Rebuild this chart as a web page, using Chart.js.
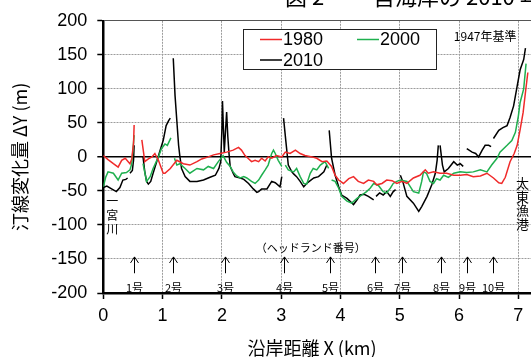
<!DOCTYPE html>
<html>
<head>
<meta charset="utf-8">
<script src="https://cdn.jsdelivr.net/npm/chart.js@4.4.0/dist/chart.umd.min.js"></script>
<style>
    html, body { margin: 0; padding: 0; background: #fff; overflow: hidden; }
    #marco { width: 531px; height: 357px; overflow: hidden; }
</style>
</head>
<body>
<div id="marco"><canvas id="graficoHL" width="560" height="357" style="width:560px;height:357px"></canvas></div>
<script>
// Distancia a lo largo de la costa (km) y cambio de línea de costa (m); null = tramo cortado
const x1980 = [
    0, 0.08, 0.17, 0.25, 0.31, 0.37, 0.42, 0.45, 0.48, 0.51,
    0.52, 0.58, 0.65, 0.70, 0.76, 0.82, 0.87, 0.93, 1.01, 1.04,
    1.13, 1.24, 1.35, 1.46, 1.58, 1.66, 1.77, 1.86, 1.97, 2.08,
    2.19, 2.28, 2.33, 2.39, 2.44, 2.50, 2.56, 2.62, 2.67, 2.73,
    2.78, 2.84, 2.92, 3.01, 3.07, 3.15, 3.24, 3.32, 3.40, 3.52,
    3.60, 3.69, 3.77, 3.85, 3.91, 3.97, 4.05, 4.14, 4.22, 4.30,
    4.39, 4.47, 4.56, 4.61, 4.70, 4.78, 4.87, 4.95, 5.04, 5.12,
    5.23, 5.34, 5.43, 5.48, 5.57, 5.68, 5.79, 5.91, 6.02, 6.13,
    6.24, 6.36, 6.47, 6.58, 6.67, 6.72, 6.78, 6.86, 6.93, 6.98,
    7.03, 7.08, 7.12, 7.16
];
const y1980 = [
    2, -4, -10, -15, -5, -2, -7, -10, -3, 20,
    47, null, 25, -7, -3, 0, 5, -5, -24, -24,
    -17, -5, -10, -12, -7, -3, 0, 3, 5, 7,
    10, 14, 10, 2, -2, -7, -5, -7, -2, -6,
    0, -2, 2, 0, 7, 5, 10, 5, 2, 0,
    -2, -7, -6, -14, -27, -34, -39, -32, -29, -36,
    -39, -34, -36, -41, -39, -34, -35, -39, -36, -39,
    -31, -27, -19, -24, -22, -24, -24, -27, -27, -26,
    -29, -28, -24, -31, -38, -39, -30, -7, 5, 17,
    40, 65, 95, 124
];

const x2000 = [
    0, 0.04, 0.08, 0.17, 0.25, 0.31, 0.39, 0.45, 0.48, 0.50,
    0.52, 0.60, 0.67, 0.73, 0.79, 0.84, 0.93, 0.98, 1.04, 1.08,
    1.14, 1.17, 1.20, 1.24, 1.29, 1.38, 1.46, 1.58, 1.69, 1.77,
    1.86, 1.94, 2.02, 2.08, 2.14, 2.19, 2.25, 2.31, 2.37, 2.42,
    2.50, 2.56, 2.62, 2.67, 2.73, 2.78, 2.84, 2.87, 2.90, 2.95,
    3.01, 3.04, 3.07, 3.12, 3.21, 3.26, 3.32, 3.38, 3.43, 3.49,
    3.54, 3.60, 3.66, 3.74, 3.80, 3.82, 3.85, 3.91, 3.97, 4.02,
    4.11, 4.19, 4.28, 4.36, 4.44, 4.50, 4.56, 4.64, 4.72, 4.78,
    4.84, 4.89, 4.95, 5.01, 5.12, 5.23, 5.32, 5.37, 5.40, 5.45,
    5.51, 5.57, 5.62, 5.68, 5.74, 5.82, 5.91, 6.02, 6.13, 6.24,
    6.36, 6.47, 6.55, 6.64, 6.69, 6.81, 6.89, 6.95, 7.00, 7.03,
    7.09, 7.13
];
const y2000 = [
    -44, -30, -22, -24, -34, -24, -23, -19, -10, 10,
    32, null, -10, -36, -29, -17, 0, 12, 19, 17,
    28, null, -2, -12, -10, -17, -24, -17, -19, -14,
    -17, -7, 2, -8, -14, -22, -28, -31, -29, -31,
    -36, -39, -34, -27, -19, -12, 5, 10, 5, -5,
    -14, null, -12, -19, -22, -17, -29, -39, -40, -24,
    -17, -19, -12, -7, -17, null, -34, -36, -46, -58,
    -65, -68, -61, -56, -51, -46, -39, -42, -51, -53,
    -46, -39, -36, -34, -36, -51, -53, -36, -22, -24,
    -36, -39, -32, -34, -27, -30, -24, -22, -23, -22,
    -19, -22, -12, -2, 7, 17, 24, 36, 60, 80,
    100, 137
];

const x2010 = [
    0, 0.06, 0.14, 0.22, 0.28, 0.33, 0.38, 0.41, 0.43, 0.45,
    0.49, 0.51, 0.52, 0.60, 0.67, 0.70, 0.73, 0.76, 0.80, 0.84,
    0.90, 0.96, 1.01, 1.06, 1.10, 1.13, 1.15, 1.18, 1.21, 1.25,
    1.27, 1.29, 1.32, 1.38, 1.46, 1.58, 1.69, 1.80, 1.89, 1.95,
    1.98, 2.00, 2.01, 2.04, 2.08, 2.10, 2.12, 2.14, 2.19, 2.22,
    2.31, 2.37, 2.45, 2.53, 2.59, 2.62, 2.67, 2.76, 2.84, 2.90,
    2.98, 3.01, 3.02, 3.04, 3.08, 3.12, 3.18, 3.21, 3.26, 3.32,
    3.38, 3.43, 3.49, 3.55, 3.63, 3.72, 3.77, 3.79, 3.81, 3.85,
    3.91, 3.97, 4.02, 4.11, 4.22, 4.28, 4.33, 4.40, 4.47, 4.56,
    4.58, 4.60, 4.66, 4.72, 4.78, 4.84, 4.89, 4.93, 4.97, 5.01,
    5.05, 5.12, 5.23, 5.32, 5.37, 5.46, 5.54, 5.60, 5.63, 5.65,
    5.66, 5.68, 5.72, 5.75, 5.82, 5.91, 5.97, 6.02, 6.07, 6.10,
    6.13, 6.22, 6.28, 6.33, 6.39, 6.44, 6.50, 6.54, 6.56, 6.58,
    6.67, 6.74, 6.81, 6.86, 6.92, 6.98, 7.03, 7.09, 7.12
];
const y2010 = [
    -45, -43, -47, -51, -45, -34, -33, -31, null, -24,
    -20, -5, 17, null, 0, -22, -36, -40, -36, -24,
    -7, 10, 24, 46, 53, 57, null, 145, 90, 41,
    17, 2, -17, -29, -36, -36, -34, -30, -27, -17,
    -7, 40, 82, 7, 66, 30, 5, -14, -24, -29,
    -31, -33, -39, -47, -52, -51, -47, -47, -36, -38,
    -44, -29, null, 57, 22, -12, -22, -25, -29, -36,
    -44, -39, -35, -31, -29, -22, -12, null, 39, -2,
    -27, -44, -56, -61, -70, -63, -56, -55, -58, -63,
    null, -58, -53, -56, -51, -58, -51, -48, null, -27,
    -36, -58, -68, -80, -73, -58, -41, -24, -5, 17,
    null, 17, -12, -22, -17, -7, -12, -10, -14, null,
    12, 7, 5, 0, 10, 17, 17, 15, null, 27,
    39, 43, 46, 58, 75, 104, 128, 143, 160
];

// Ubicación de las ヘッドランド (km)
const headlandX = [0.525, 1.18, 2.05, 3.05, 3.82, 4.59, 5.03, 5.69, 6.14, 6.58];
const headlandNombre = ['1号', '2号', '3号', '4号', '5号', '6号', '7号', '8号', '9号', '10号'];

const yTicks = [-200, -150, -100, -50, 0, 50, 100, 150, 200];

const fuenteLatina = '"Liberation Sans", Arial, sans-serif';
const fuenteJP = '"Noto Sans CJK JP", "Liberation Sans", sans-serif';

function puntos(xs, ys) {
    return xs.map((x, i) => ({ x: x, y: ys[i] }));
}

// Anotaciones, leyenda y textos de la figura
const anotaciones = {
    id: 'anotaciones',
    afterDraw(chart) {
        const ctx = chart.ctx;
        const sx = chart.scales.x;
        const sy = chart.scales.y;
        ctx.save();

        // título (cortado arriba)
        ctx.fillStyle = '#000';
        ctx.font = '22px ' + fuenteJP;
        ctx.textAlign = 'left';
        ctx.textBaseline = 'alphabetic';
        ctx.fillText('図 2　 一宮海岸の 2010 年までの汀線変化', 285, 5);

        // flechas de headland
        ctx.strokeStyle = '#000';
        ctx.lineWidth = 1;
        ctx.font = '11px ' + fuenteJP;
        ctx.textAlign = 'center';
        ctx.textBaseline = 'middle';
        headlandX.forEach((hx, i) => {
            const px = Math.round(sx.getPixelForValue(hx)) + 0.5;
            const top = sy.getPixelForValue(-147);
            const bot = sy.getPixelForValue(-171);
            ctx.beginPath();
            ctx.moveTo(px, bot);
            ctx.lineTo(px, top);
            ctx.moveTo(px - 4, top + 6);
            ctx.lineTo(px, top);
            ctx.lineTo(px + 4, top + 6);
            ctx.stroke();
            ctx.fillText(headlandNombre[i], px, sy.getPixelForValue(-193));
        });
        ctx.fillText('（ヘッドランド番号）', sx.getPixelForValue(3.5), sy.getPixelForValue(-134));

        // textos verticales
        ctx.font = '12px ' + fuenteJP;
        ['一', '宮', '川'].forEach((c, i) => {
            ctx.fillText(c, sx.getPixelForValue(0.15), sy.getPixelForValue(-65 - i * 20.5));
        });
        ctx.font = '13px ' + fuenteJP;
        ['太', '東', '漁', '港'].forEach((c, i) => {
            ctx.fillText(c, sx.getPixelForValue(7.07), sy.getPixelForValue(-39 - i * 19.8));
        });
        ctx.font = '12px ' + fuenteJP;
        ctx.fillText('1947年基準', sx.getPixelForValue(6.44), sy.getPixelForValue(177));

        // título del eje X
        ctx.font = '18px ' + fuenteJP;
        ctx.fillText('沿岸距離 X (km)', 312, 348);

        // leyenda
        ctx.fillStyle = '#fff';
        ctx.fillRect(243.5, 29.5, 193, 40);
        ctx.strokeStyle = '#222';
        ctx.lineWidth = 1;
        ctx.strokeRect(243.5, 29.5, 193, 40);
        const pos = [[260, 39.5], [357, 39.5], [260, 60]];
        ctx.font = '18px ' + fuenteLatina;
        ctx.textAlign = 'left';
        chart.data.datasets.forEach((ds, i) => {
            const [lx, ly] = pos[i];
            ctx.strokeStyle = ds.borderColor;
            ctx.lineWidth = 1.5;
            ctx.beginPath();
            ctx.moveTo(lx, ly);
            ctx.lineTo(lx + 22, ly);
            ctx.stroke();
            ctx.fillStyle = '#000';
            ctx.fillText(ds.label, lx + 23, ly + 1);
        });
        ctx.restore();
    }
};

const ctx = document.getElementById('graficoHL').getContext('2d');
new Chart(ctx, {
    type: 'line',
    data: {
        datasets: [{
            label: '1980',
            data: puntos(x1980, y1980),
            borderColor: '#f02a2a'
        }, {
            label: '2000',
            data: puntos(x2000, y2000),
            borderColor: '#1fb04f'
        }, {
            label: '2010',
            data: puntos(x2010, y2010),
            borderColor: '#000000'
        }]
    },
    options: {
        responsive: false,
        animation: false,
        spanGaps: false,
        layout: { padding: { left: 0, top: 17, right: 12, bottom: 0 } },
        elements: {
            point: { radius: 0 },
            line: { borderWidth: 1.5, tension: 0 }
        },
        plugins: {
            legend: { display: false },
            tooltip: { enabled: false }
        },
        scales: {
            x: {
                type: 'linear',
                min: 0,
                max: 7.5,
                afterFit: function (scale) { scale.height = 64; },
                ticks: {
                    stepSize: 1,
                    includeBounds: false,
                    maxRotation: 0,
                    padding: 6,
                    color: '#000',
                    font: { family: fuenteLatina, size: 18 }
                },
                grid: {
                    color: function (c) { return c.tick && c.tick.value === 0 ? 'rgba(0,0,0,0)' : '#9c9c9c'; },
                    lineWidth: 1,
                    tickLength: 6,
                    tickColor: '#000',
                    tickWidth: 1.5
                },
                border: { color: '#000', width: 2.5, dash: [2, 1] }
            },
            y: {
                min: -200,
                max: 200,
                afterFit: function (scale) { scale.width = 103.3; },
                afterBuildTicks: function (scale) { scale.ticks = yTicks.map(v => ({ value: v })); },
                ticks: {
                    padding: 10,
                    color: '#000',
                    font: { family: fuenteLatina, size: 18 }
                },
                title: {
                    display: true,
                    text: '汀線変化量 ΔY (m)',
                    color: '#000',
                    font: { family: fuenteJP, size: 18, lineHeight: 1 },
                    padding: { top: 11, bottom: 0 }
                },
                grid: {
                    color: function (c) {
                        if (!c.tick) return '#9c9c9c';
                        if (c.tick.value === 0) return '#000';
                        if (c.tick.value === 200) return '#555';
                        return '#9c9c9c';
                    },
                    lineWidth: function (c) { return c.tick && c.tick.value === 0 ? 1.5 : 1; },
                    tickLength: 6,
                    tickColor: '#000',
                    tickWidth: 1.5
                },
                border: {
                    color: '#000',
                    width: 2.5,
                    dash: function (c) {
                        return c.tick && (c.tick.value === 0 || c.tick.value === 200) ? [] : [2, 1];
                    }
                }
            }
        }
    },
    plugins: [anotaciones]
});
</script>
</body>
</html>
